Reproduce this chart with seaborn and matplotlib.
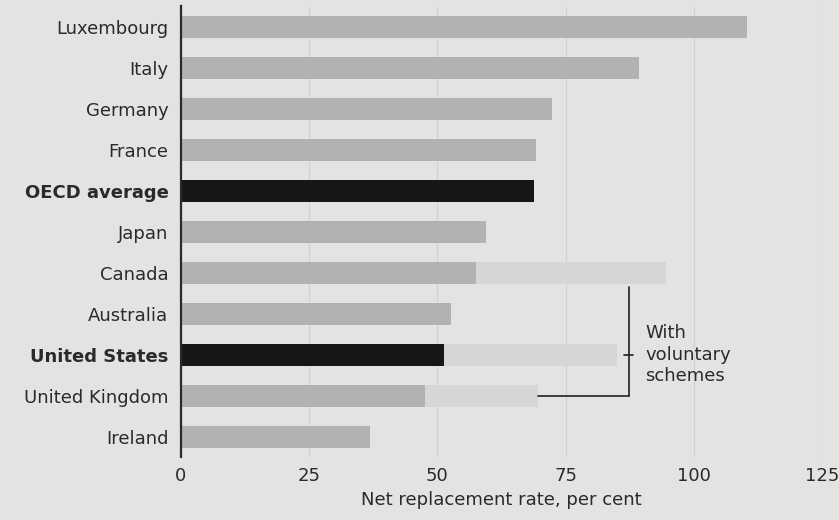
import pandas as pd
import seaborn as sns
import matplotlib.pyplot as plt

# values
countries = ['Luxembourg', 'Italy', 'Germany', 'France', 'OECD average', 'Japan',
             'Canada', 'Australia', 'United States', 'United Kingdom', 'Ireland']
mandatory = [110.3, 89.3, 72.4, 69.3, 68.9, 59.5, 57.6, 52.6, 51.2, 47.6, 36.9]
vol_countries = ['Canada', 'United States', 'United Kingdom']
voluntary = [94.6, 85.0, 69.7]
highlight = ['OECD average', 'United States']
x_ticks = [0, 25, 50, 75, 100, 125]

df = pd.DataFrame({'country': countries, 'rate': mandatory})
vol = pd.DataFrame({'country': vol_countries, 'rate': voluntary})

sns.set_style('white')
plt.rcParams['font.family'] = ['DejaVu Sans']
bg = '#e3e3e1'
txt = '#2a2a2a'
fs = 13

fig = plt.figure(figsize=(8.39, 5.2), dpi=100, facecolor=bg)
ax = fig.add_axes([0.2157, 0.1202, 0.764, 0.8673])
ax.set_facecolor(bg)

# voluntary schemes first, so they sit behind the mandatory bars
sns.barplot(data=vol, x='rate', y='country', order=countries, color='#d6d6d4',
            width=0.54, saturation=1, edgecolor='none', linewidth=0, ax=ax)
pal = {c: ('#161616' if c in highlight else '#b2b2b2') for c in countries}
sns.barplot(data=df, x='rate', y='country', order=countries, hue='country',
            palette=pal, width=0.54, saturation=1, legend=False,
            edgecolor='none', linewidth=0, ax=ax)

ax.set_xlim(0, 125)
ax.set_ylim(len(countries) - 0.5, -0.5)
ax.set_xticks(x_ticks)
ax.xaxis.grid(True, color='#d2d2d0', lw=0.9)
ax.yaxis.grid(False)
ax.set_axisbelow(True)

for s in ['top', 'right', 'bottom']:
    ax.spines[s].set_visible(False)
ax.spines['left'].set_color('#2a2a2a')
ax.spines['left'].set_linewidth(1.6)

ax.tick_params(axis='y', length=0, pad=9, labelsize=fs, labelcolor=txt)
ax.tick_params(axis='x', length=0, pad=7, labelsize=fs, labelcolor=txt)
for lab in ax.get_yticklabels():
    if lab.get_text() in highlight:
        lab.set_fontweight('bold')

ax.set_ylabel('')
ax.set_xlabel('Net replacement rate, per cent', fontsize=fs, color=txt, labelpad=4)

# bracket marking the voluntary schemes
bx = 87.3
ax.plot([bx, bx], [6.34, 9.0], color='#222222', lw=1.2, clip_on=False)
ax.plot([voluntary[-1], bx], [9.0, 9.0], color='#222222', lw=1.2)
ax.plot([bx - 0.9, bx + 0.9], [8.0, 8.0], color='#222222', lw=1.2)
ax.text(bx + 3.2, 8.0, 'With\nvoluntary\nschemes', ha='left', va='center',
        fontsize=fs, color=txt, linespacing=1.25)

fig.savefig('out.png', dpi=100, facecolor=bg)
